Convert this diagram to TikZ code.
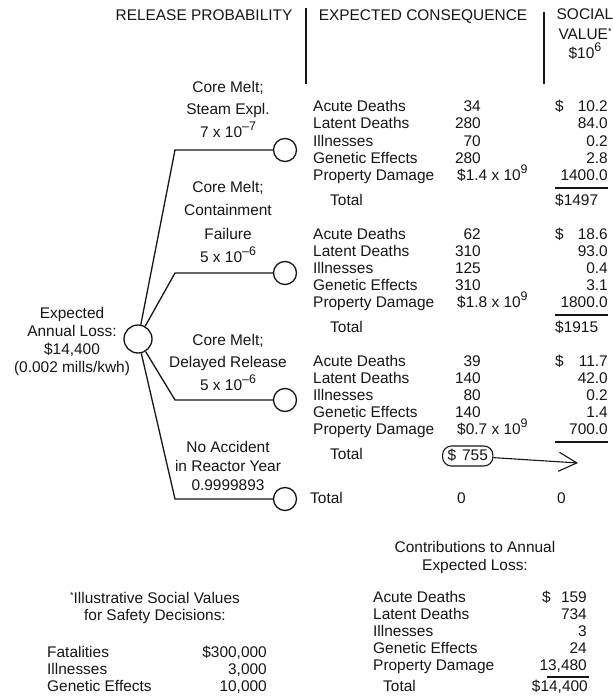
\documentclass[tikz,border=0pt]{standalone}
\usepackage{fontspec}
\setmainfont{Liberation Sans}
\usetikzlibrary{arrows.meta}
\definecolor{Ink}{HTML}{161616}
\newcommand{\figbackground}[2]{
  \path[use as bounding box] (0,0) rectangle (#1,#2);
  \fill[white] (0,0) rectangle (#1,#2);
}
\newcommand{\expo}[1]{\raisebox{.45em}{\fontsize{12.5}{12.5}\selectfont#1}}
\newcommand{\starmark}{\smash{\raisebox{.3em}{\fontsize{9}{9}\selectfont*}}}
\tikzset{
  txt/.style={text=Ink,font=\fontsize{15.5}{17}\selectfont,inner sep=0bp,
    text height=11bp,text depth=3bp},
  lab/.style={text=Ink,font=\fontsize{15.5}{#1}\selectfont,inner sep=0bp,
    align=center,anchor=north},
  chance/.style={circle,draw=Ink,line width=1.3bp,minimum size=23bp,inner sep=0bp},
  wire/.style={draw=Ink,line width=1.3bp},
  rule/.style={draw=Ink,line width=1.1bp}
}
\newcommand{\harmrows}[3]{
  \foreach \h [count=\i] in {Acute Deaths,Latent Deaths,Illnesses,Genetic Effects,Property Damage}
    \node[txt,anchor=west] (#1\i) at (#2,#3+17*\i-17) {\h};
}
\newcommand{\consblock}[5]{
  \harmrows{#1h}{313}{#2}
  \foreach \n [count=\i] in {#3}
    \node[txt,anchor=east] (#1n\i) at (481,#2+17*\i-17) {\n};
  \node[txt,anchor=west] (#1n5) at (457,#2+68) {#5};
  \foreach \v [count=\i] in {#4}
    \node[txt,anchor=east] (#1v\i) at (608,#2+17*\i-17) {\v};
  \node[txt,anchor=west] (#1d) at (555,#2) {\$};
  \draw[rule] (555,#2+80) -- (608,#2+80);
  \node[txt,anchor=west] (#1t) at (330,#2+93) {Total};
}

\begin{document}
\begin{tikzpicture}[x=1bp,y=-1bp]
  \figbackground{613}{698}

  % column heads
  \node[txt] (hrel) at (204,17) {RELEASE PROBABILITY};
  \node[txt] (hexp) at (423,17) {EXPECTED CONSEQUENCE};
  \node[lab=19.5] (hsoc) at (585,9) {SOCIAL\\VALUE\starmark\\\$10\smash{\expo{6}}};
  \draw[rule] (306,8) -- (306,84);
  \draw[rule] (544,12) -- (544,84);

  % decision tree
  \node[chance,minimum size=28bp] (root) at (138,339) {};
  \node[lab=18] (rootlab) at (72,307) {Expected\\Annual Loss:\\\$14,400\\(0.002 mills/kwh)};
  \foreach \y [count=\i] in {150,273,400,499} {
    \coordinate (k\i) at (175,\y);
    \node[chance] (leaf\i) at (285,\y) {};
    \draw[wire] (root) -- (k\i) -- (leaf\i);
  }
  \node[lab=22.5] (br1) at (228,81) {Core Melt;\\Steam Expl.\\7 x 10\expo{--7}};
  \node[lab=23.5] (br2) at (228,181) {Core Melt;\\Containment\\Failure\\5 x 10\expo{--6}};
  \node[lab=22.5] (br3) at (228,334) {Core Melt;\\Delayed Release\\5 x 10\expo{--6}};
  \node[lab=19] (br4) at (228,441) {No Accident\\in Reactor Year\\0.9999893};

  % consequences per branch
  \consblock{c1}{108}{34,280,70,280}{10.2,84.0,0.2,2.8,1400.0}{\$1.4 x 10\expo{9}}
  \node[txt,anchor=west] (c1tot) at (555,201) {\$1497};
  \consblock{c2}{235}{62,310,125,310}{18.6,93.0,0.4,3.1,1800.0}{\$1.8 x 10\expo{9}}
  \node[txt,anchor=west] (c2tot) at (555,328) {\$1915};
  \consblock{c3}{362}{39,140,80,140}{11.7,42.0,0.2,1.4,700.0}{\$0.7 x 10\expo{9}}
  \node[txt,anchor=west,draw=Ink,line width=1.1bp,rounded corners=9bp,
    inner xsep=5bp,inner ysep=3bp] (c3tot) at (442,456) {\$\hspace{6bp}755};
  \coordinate (c3to) at (578,463);
  \draw[wire,line width=1.1bp,-{Straight Barb[length=18bp,width=19bp]}] (c3tot) -- (c3to);
  \node[txt,anchor=west] (c4t) at (310,499) {Total};
  \node[txt,anchor=west] (c4n) at (457,499) {0};
  \node[txt,anchor=west] (c4v) at (557,499) {0};

  % social values
  \node[lab=17] (svhead) at (155,592) {\starmark Illustrative Social Values\\for Safety Decisions:};
  \foreach \h/\v [count=\i] in {Fatalities/\$300{,}000,Illnesses/3{,}000,Genetic Effects/10{,}000} {
    \node[txt,anchor=west] (svl\i) at (47,653+17*\i-17) {\h};
    \node[txt,anchor=east] (svv\i) at (267,653+17*\i-17) {\v};
  }

  % annual contributions
  \node[lab=18] (achead) at (475,541) {Contributions to Annual\\Expected Loss:};
  \harmrows{acl}{373}{598}
  \foreach \v [count=\i] in {159,734,3,24,13{,}480}
    \node[txt,anchor=east] (acv\i) at (587,598+17*\i-17) {\v};
  \node[txt,anchor=west] (acd) at (542,598) {\$};
  \draw[rule] (547,677) -- (589,677);
  \node[txt,anchor=west] (act) at (383,687) {Total};
  \node[txt,anchor=east] (actot) at (588,687) {\$14,400};
\end{tikzpicture}
\end{document}
